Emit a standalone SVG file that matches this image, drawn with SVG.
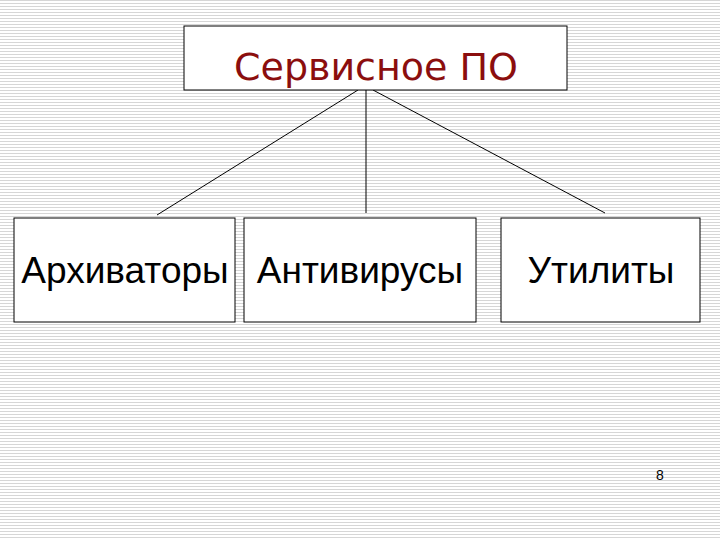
<svg xmlns="http://www.w3.org/2000/svg" width="720" height="540" viewBox="0 0 720 540">
<style>
.box{fill:#fff;stroke:#000;stroke-width:1}
.t{font-family:"Liberation Sans",Arial,sans-serif;font-size:37px;fill:#000;text-anchor:middle}
</style>
<defs><pattern id="st" width="8" height="3" patternUnits="userSpaceOnUse"><rect width="8" height="3" fill="#fff"/><rect width="8" height="1" fill="#d6d6d6"/></pattern></defs>
<rect width="720" height="540" fill="url(#st)"/>
<g id="connectors" stroke="#000" stroke-width="1" fill="none">
<line x1="358" y1="90" x2="157" y2="215"/>
<line x1="366" y1="90" x2="366" y2="213"/>
<line x1="373" y1="90" x2="605" y2="213"/>
</g>
<g id="root"><rect class="box" x="184" y="26" width="383" height="64"/>
<text x="376" y="80" font-family="DejaVu Sans,sans-serif" font-size="38" fill="#8B0E0E" text-anchor="middle">Сервисное ПО</text></g>
<g id="arch"><rect class="box" x="14" y="218" width="221" height="104"/><text class="t" x="125" y="283">Архиваторы</text></g>
<g id="anti"><rect class="box" x="244" y="218" width="232" height="104"/><text class="t" x="360" y="283">Антивирусы</text></g>
<g id="util"><rect class="box" x="501" y="218" width="199" height="104"/><text class="t" x="601" y="283">Утилиты</text></g>
<text x="660" y="480" font-family="Liberation Sans,sans-serif" font-size="14" text-anchor="middle">8</text>
</svg>
